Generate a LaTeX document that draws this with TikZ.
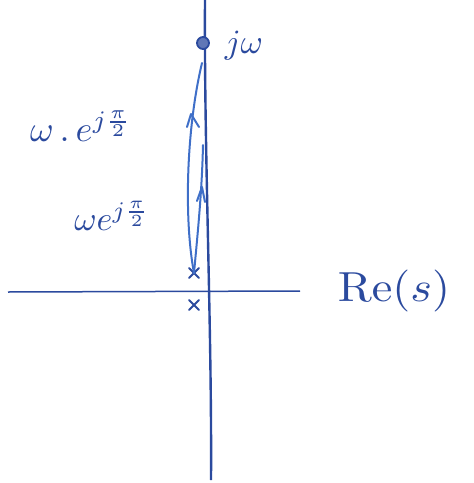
\documentclass[tikz,border=0pt]{standalone}
\usepackage{tikz}
\usetikzlibrary{arrows.meta}
\definecolor{ink}{HTML}{2B4A9E}
\definecolor{inklight}{HTML}{3F6FC8}
\begin{document}
\begin{tikzpicture}[x=1pt,y=-1pt,
  axis/.style={ink, line width=2.4pt},
  path1/.style={inklight, line width=2pt, line cap=round, line join=round},
  lbl/.style={text=ink, inner sep=0pt},
  xmk/.style={ink, line width=2pt, line cap=round}]
\useasboundingbox (0,0) rectangle (474,483);
% axes
\coordinate (vtop) at (205,0);
\coordinate (vbot) at (211,480);
\coordinate (hl) at (8,292);
\coordinate (hr) at (300,291);
\draw[axis] (vtop) .. controls (204,150) and (212,330) .. (vbot);
\draw[ink, line width=1.5pt] (hl) -- (hr);
% point on axis
\node[circle, draw=ink, fill=ink!75, line width=1.8pt, minimum size=12pt, inner sep=0pt] (jw) at (203,43) {};
\node[lbl, scale=3.4] (jwl) at (244,46) {$j\omega$};
\node[lbl, scale=4.2, xscale=1.1] (rel) at (394,291) {$\mathrm{Re}(s)$};
% poles
\coordinate (p1) at (194,273);
\coordinate (p2) at (194,305);
\draw[xmk] ([shift={(-5,-5)}]p1) -- ([shift={(5,5)}]p1) ([shift={(-5,5)}]p1) -- ([shift={(5,-5)}]p1);
\draw[xmk] ([shift={(-5,-5)}]p2) -- ([shift={(5,5)}]p2) ([shift={(-5,5)}]p2) -- ([shift={(5,-5)}]p2);
% curves
\coordinate (c1end) at (202,63);
\coordinate (c2end) at (203,145);
\draw[path1] (p1) .. controls (184,220) and (186,130) .. (c1end);
\draw[path1] (p1) .. controls (198,230) and (202,190) .. (c2end);
% arrow heads
\draw[path1] (187,127) -- (191,114) -- (199,127);
\draw[path1] (197,201) -- (202,187) -- (205,202);
% labels
\node[lbl, scale=3.6] (l1) at (81,126) {$\omega\,.\,e^{j\frac{\pi}{2}}$};
\node[lbl, scale=3.4] (l2) at (112,216) {$\omega e^{j\frac{\pi}{2}}$};
\end{tikzpicture}
\end{document}
